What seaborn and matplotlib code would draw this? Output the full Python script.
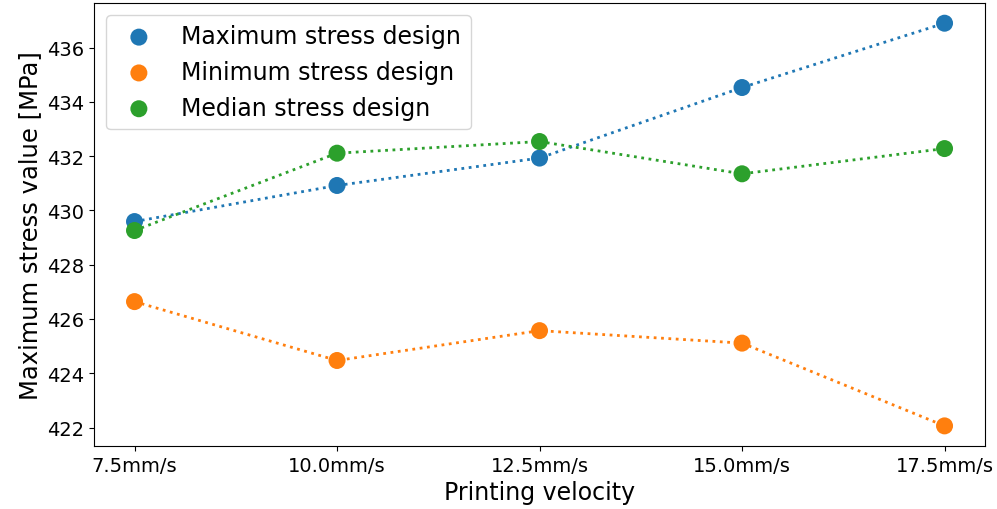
import matplotlib
matplotlib.use("Agg")
import matplotlib.pyplot as plt
import seaborn as sns
import pandas as pd

velocity = [7.5, 10.0, 12.5, 15.0, 17.5]
tick_labels = ["7.5mm/s", "10.0mm/s", "12.5mm/s", "15.0mm/s", "17.5mm/s"]
max_design = [429.59, 430.92, 431.93, 434.53, 436.90]
min_design = [426.64, 424.47, 425.57, 425.11, 422.06]
med_design = [429.26, 432.11, 432.54, 431.35, 432.28]
series_names = ["Maximum stress design", "Minimum stress design", "Median stress design"]
colors = ["#1f77b4", "#ff7f0e", "#2ca02c"]

rows = []
for name, vals in zip(series_names, [max_design, min_design, med_design]):
    for v, s in zip(velocity, vals):
        rows.append({"velocity": v, "stress": s, "design": name})
df = pd.DataFrame(rows)

fig = plt.figure(figsize=(9.97, 5.10), dpi=100)
ax = fig.add_axes([0.0943, 0.1235, 0.8937, 0.8685])

for name, c in zip(series_names, colors):
    sub = df[df["design"] == name]
    sns.lineplot(data=sub, x="velocity", y="stress", ax=ax, color=c,
                 linestyle=":", linewidth=2, legend=False)
    sns.scatterplot(data=sub, x="velocity", y="stress", ax=ax, color=c,
                    s=150, edgecolor="none", label=name, zorder=3)

ax.set_xticks(velocity)
ax.set_xticklabels(tick_labels)
ax.tick_params(axis="both", labelsize=14)
ax.set_xlabel("Printing velocity", fontsize=17)
ax.set_ylabel("Maximum stress value [MPa]", fontsize=17.5)
ax.legend(loc="upper left", fontsize=17)

fig.savefig("out.png", dpi=100)
